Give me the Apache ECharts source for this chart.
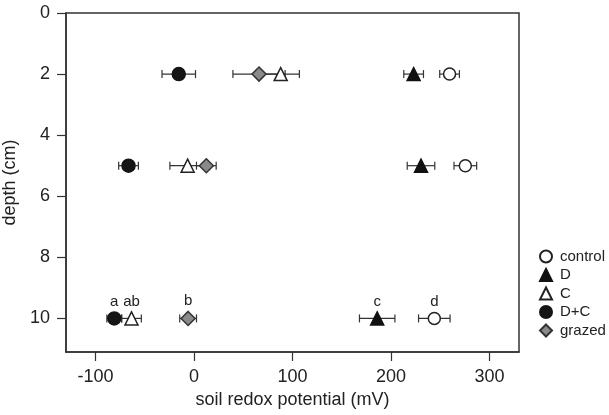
<!DOCTYPE html>
<html>
<head>
<meta charset="utf-8">
<script src="https://cdn.jsdelivr.net/npm/echarts@6/dist/echarts.min.js"></script>
<style>html,body{margin:0;padding:0;background:#fff}#c{width:609px;height:415px}</style>
</head>
<body>
<div id="c"></div>
<script>
// ---- data ----
const depths = [2, 5, 10];
const seriesNames = ['control', 'D', 'C', 'D+C', 'grazed'];
const controlMean = [259.5, 275.5, 244];
const controlErr  = [10, 11.5, 16];
const dMean  = [223, 230.5, 186];
const dErr   = [10, 14, 18];
const cMean  = [88, -6.5, -63.5];
const cErr   = [19, 18, 10];
const dcMean = [-15.5, -66.5, -81];
const dcErr  = [17, 10, 7.5];
const grazedMean = [66, 12.5, -6];
const grazedErr  = [26.5, 10, 8.5];
// significance letters at depth 10 cm
const letters10 = {'control': 'd', 'D': 'c', 'C': 'ab', 'D+C': 'a', 'grazed': 'b'};
const xTicks = [-100, 0, 100, 200, 300];
const yTicks = [0, 2, 4, 6, 8, 10];

const means = {'control': controlMean, 'D': dMean, 'C': cMean, 'D+C': dcMean, 'grazed': grazedMean};
const errs  = {'control': controlErr, 'D': dErr, 'C': cErr, 'D+C': dcErr, 'grazed': grazedErr};

const styles = {
  'control': {symbol: 'circle', size: 12, color: '#ffffff', border: '#222'},
  'D':       {symbol: 'triangle', size: 13, color: '#111111', border: '#111'},
  'C':       {symbol: 'triangle', size: 13, color: '#ffffff', border: '#222'},
  'D+C':     {symbol: 'circle', size: 13, color: '#151515', border: '#151515'},
  'grazed':  {symbol: 'diamond', size: 14, color: '#8a8a8a', border: '#333'}
};

const font = 'Liberation Sans, Arial, Helvetica, sans-serif';
const series = [];

// error bars
seriesNames.forEach(name => {
  const data = depths.map((d, i) => [means[name][i], d, errs[name][i]]);
  series.push({
    type: 'custom',
    name: name + '_err',
    z: 2,
    silent: true,
    renderItem: function (params, api) {
      const x = api.value(0), y = api.value(1), e = api.value(2);
      const lo = api.coord([x - e, y]);
      const hi = api.coord([x + e, y]);
      const cap = 4;
      const st = {stroke: '#333', lineWidth: 1.2};
      return {
        type: 'group',
        children: [
          {type: 'line', shape: {x1: lo[0], y1: lo[1], x2: hi[0], y2: hi[1]}, style: st},
          {type: 'line', shape: {x1: lo[0], y1: lo[1] - cap, x2: lo[0], y2: lo[1] + cap}, style: st},
          {type: 'line', shape: {x1: hi[0], y1: hi[1] - cap, x2: hi[0], y2: hi[1] + cap}, style: st}
        ]
      };
    },
    data: data
  });
});

// markers
seriesNames.forEach(name => {
  const s = styles[name];
  series.push({
    type: 'scatter',
    name: name,
    z: 5,
    symbol: s.symbol,
    symbolSize: s.size,
    itemStyle: {color: s.color, borderColor: s.border, borderWidth: 1.5, opacity: 1},
    label: {
      show: true,
      position: 'top',
      distance: 2,
      color: '#222',
      fontSize: 15,
      fontFamily: font,
      formatter: function (p) { return p.value[1] === 10 ? letters10[name] : ''; }
    },
    data: depths.map((d, i) => [means[name][i], d])
  });
});

const chart = echarts.init(document.getElementById('c'), null, {renderer: 'canvas'});
chart.setOption({
  animation: false,
  backgroundColor: '#fff',
  grid: {left: 66, right: 90, top: 13, bottom: 63, show: true, borderColor: '#333', borderWidth: 1.5,
         containLabel: false, outerBoundsMode: 'none'},
  legend: {
    orient: 'vertical',
    left: 534,
    top: 244,
    itemWidth: 12,
    itemHeight: 12,
    itemGap: 3.5,
    data: seriesNames,
    textStyle: {fontSize: 15, color: '#222', fontFamily: font, padding: [0, 0, 0, 3]}
  },
  xAxis: {
    type: 'value',
    min: -130,
    max: 330,
    name: 'soil redox potential (mV)',
    nameLocation: 'middle',
    nameGap: 38,
    nameTextStyle: {fontSize: 18, color: '#222', fontFamily: font},
    axisLine: {show: true, onZero: false, lineStyle: {color: '#333', width: 1.5}},
    axisTick: {show: true, length: 9, lineStyle: {color: '#333', width: 1.2}, customValues: xTicks},
    axisLabel: {fontSize: 18, color: '#222', fontFamily: font, margin: 16, customValues: xTicks},
    splitLine: {show: false}
  },
  yAxis: {
    type: 'value',
    inverse: true,
    min: 0,
    max: 11.1,
    name: 'depth (cm)',
    nameLocation: 'middle',
    nameGap: 40,
    nameTextStyle: {fontSize: 18, color: '#222', fontFamily: font},
    axisLine: {show: true, onZero: false, lineStyle: {color: '#333', width: 1.5}},
    axisTick: {show: true, length: 9, lineStyle: {color: '#333', width: 1.2}, customValues: yTicks},
    axisLabel: {fontSize: 18, color: '#222', fontFamily: font, margin: 16, customValues: yTicks},
    splitLine: {show: false}
  },
  series: series
});
</script>
</body>
</html>
